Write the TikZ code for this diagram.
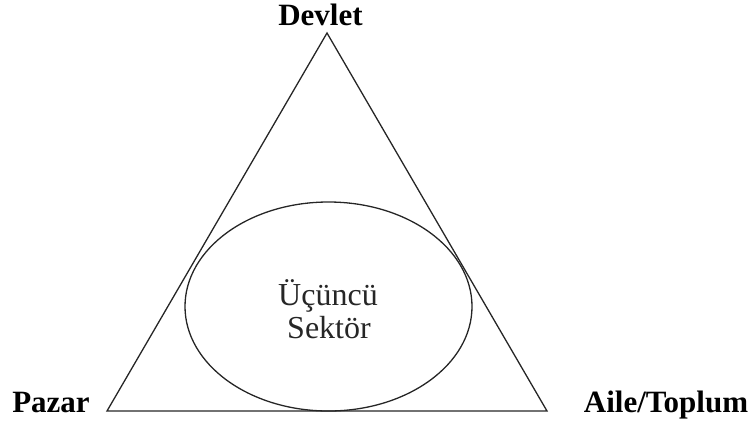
\documentclass[tikz,border=0pt]{standalone}
\usepackage{fontspec}
\setmainfont{Liberation Serif}
\usetikzlibrary{shapes.geometric}
\begin{document}
\begin{tikzpicture}[x=1bp,y=-1bp,
  edge/.style={draw=black!85,line width=1.3bp,line join=miter},
  corner/.style={font=\fontsize{31bp}{34bp}\selectfont\bfseries,anchor=base,inner sep=0pt},
  sectorlabel/.style={font=\fontsize{32bp}{34bp}\selectfont,align=center,inner sep=0pt,text=black!85}]
  \useasboundingbox (0,0) rectangle (755,423);
  % triangle corners
  \coordinate (top) at (327,33);
  \coordinate (left) at (107,411);
  \coordinate (right) at (547,411);
  \draw[edge] (top) -- (left) -- (right) -- cycle;
  % third sector ellipse
  \node[ellipse,edge,minimum width=287bp,minimum height=209bp,inner sep=0pt] (sector) at (328.5,306.5) {};
  \node[sectorlabel,anchor=base] (s1) at (328,305) {Üçüncü};
  \node[sectorlabel,anchor=base] (s2) at (329,338) {Sektör};
  % corner labels
  \node[corner] (devlet) at (320.5,25) {Devlet};
  \node[corner] (pazar) at (51,412) {Pazar};
  \node[corner] (aile) at (666,412) {Aile/Toplum};
\end{tikzpicture}
\end{document}
